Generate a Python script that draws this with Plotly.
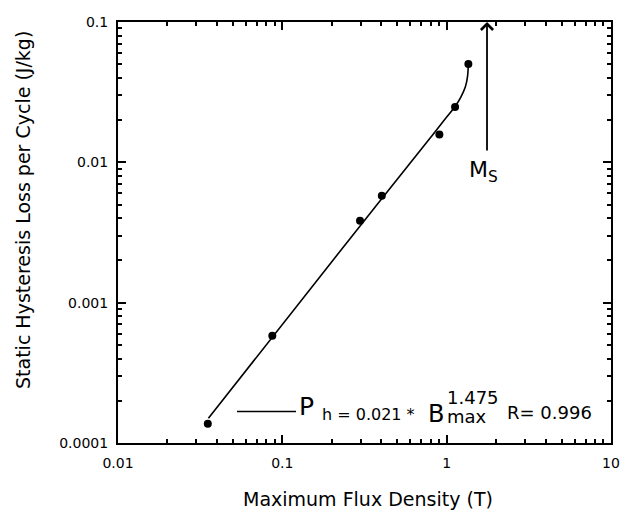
import plotly.graph_objects as go
import math

B_MEAS = [0.0352, 0.0869, 0.297, 0.403, 0.903, 1.125, 1.355]
P_MEAS = [0.000137, 0.000582, 0.00383, 0.00578, 0.0158, 0.0248, 0.0502]

# Fitted / drawn curve
B_FIT = [0.0355, 0.2, 0.8, 1.0, 1.125, 1.22, 1.30, 1.34, 1.355]
P_FIT = [0.000150, 0.00196, 0.0151, 0.0210, 0.0250, 0.0292, 0.0345, 0.041, 0.050]

# Saturation marker position
B_SAT = 1.76

X_TICKS = [0.01, 0.1, 1, 10]
X_TICK_TEXT = ["0.01", "0.1", "1", "10"]
Y_TICKS = [0.0001, 0.001, 0.01, 0.1]
Y_TICK_TEXT = ["0.0001", "0.001", "0.01", "0.1"]

W, H = 621, 514
ML, MR, MT, MB = 118, 10, 22, 71
PW, PH = W - ML - MR, H - MT - MB

def px(x):
    return (x - ML) / PW

def py(y):
    return (MT + PH - y) / PH

FONT = "DejaVu Sans, Liberation Sans, Arial, sans-serif"

fig = go.Figure()
fig.add_trace(go.Scatter(x=B_FIT, y=P_FIT, mode="lines",
                         line=dict(color="black", width=1.6, shape="spline", smoothing=0.8),
                         showlegend=False, hoverinfo="skip"))
fig.add_trace(go.Scatter(x=B_MEAS, y=P_MEAS, mode="markers",
                         marker=dict(color="black", size=8, symbol="circle"),
                         showlegend=False))

axis_common = dict(
    showline=True, linecolor="black", linewidth=2, mirror="allticks",
    ticks="inside", ticklen=8, tickwidth=2, tickcolor="black",
    showgrid=False, zeroline=False, automargin=False,
    tickfont=dict(family=FONT, size=14, color="black"),
    minor=dict(ticks="inside", ticklen=4, tickwidth=1.5, tickcolor="black",
               dtick="D1", showgrid=False),
)

fig.update_xaxes(type="log", range=[-2, 1], tickvals=X_TICKS, ticktext=X_TICK_TEXT,
                 ticklabelstandoff=6, **axis_common)
fig.update_yaxes(type="log", range=[-4, -1], tickvals=Y_TICKS, ticktext=Y_TICK_TEXT,
                 ticklabelstandoff=5, **axis_common)

anns = []
# Axis titles
anns.append(dict(text="Maximum Flux Density (T)", xref="paper", yref="paper",
                 x=px(368), y=py(499), xanchor="center", yanchor="middle",
                 showarrow=False, font=dict(family=FONT, size=19, color="black")))
anns.append(dict(text="Static Hysteresis Loss per Cycle (J/kg)", xref="paper", yref="paper",
                 x=px(23), y=py(210), xanchor="center", yanchor="middle", textangle=-90,
                 showarrow=False, font=dict(family=FONT, size=19, color="black")))
# Saturation arrow
anns.append(dict(x=math.log10(B_SAT), y=1.0, xref="x", yref="paper", ax=0, ay=130,
                 axref="pixel", ayref="pixel", text="", showarrow=True,
                 arrowhead=4, arrowsize=1.3, arrowwidth=1.8, arrowcolor="black", standoff=0))
anns.append(dict(text="M<sub>S</sub>", xref="paper", yref="paper",
                 x=px(467), y=py(172), xanchor="left", yanchor="middle",
                 showarrow=False, font=dict(family=FONT, size=22, color="black")))
# Formula
anns.append(dict(text="P", xref="paper", yref="paper", x=px(297), y=py(406),
                 xanchor="left", yanchor="middle", showarrow=False,
                 font=dict(family=FONT, size=25, color="black")))
anns.append(dict(text="h = 0.021 *", xref="paper", yref="paper", x=px(320), y=py(414),
                 xanchor="left", yanchor="middle", showarrow=False,
                 font=dict(family=FONT, size=16, color="black")))
anns.append(dict(text="B", xref="paper", yref="paper", x=px(426), y=py(414),
                 xanchor="left", yanchor="middle", showarrow=False,
                 font=dict(family=FONT, size=24, color="black")))
anns.append(dict(text="1.475", xref="paper", yref="paper", x=px(445), y=py(397),
                 xanchor="left", yanchor="middle", showarrow=False,
                 font=dict(family=FONT, size=18, color="black")))
anns.append(dict(text="max", xref="paper", yref="paper", x=px(445), y=py(416),
                 xanchor="left", yanchor="middle", showarrow=False,
                 font=dict(family=FONT, size=18, color="black")))
anns.append(dict(text="R= 0.996", xref="paper", yref="paper", x=px(505), y=py(412.5),
                 xanchor="left", yanchor="middle", showarrow=False,
                 font=dict(family=FONT, size=18, color="black")))

fig.update_layout(
    width=W, height=H,
    margin=dict(l=ML, r=MR, t=MT, b=MB),
    paper_bgcolor="white", plot_bgcolor="white",
    annotations=anns,
    shapes=[dict(type="line", xref="paper", yref="paper",
                 x0=px(237), x1=px(296), y0=py(411.5), y1=py(411.5),
                 line=dict(color="black", width=1.6))],
    showlegend=False,
)

fig.write_html("out.html")
